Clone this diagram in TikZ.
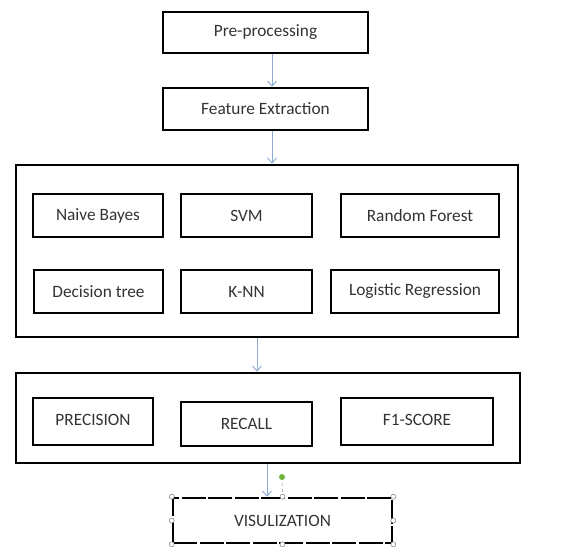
\documentclass[tikz,border=0pt]{standalone}
\usepackage{fontspec}
\setmainfont{Carlito}
\usetikzlibrary{arrows.meta}
\definecolor{arrblue}{RGB}{140,170,210}
\definecolor{handlegreen}{RGB}{110,180,60}
\begin{document}
\begin{tikzpicture}[x=1pt,y=-1pt,
  font=\fontsize{17.3}{20}\selectfont,
  bigbox/.style={draw, line width=2.8pt, rectangle, inner sep=0pt},
  smallbox/.style={draw, line width=2.6pt, rectangle, inner sep=0pt, text=black!80},
  arr/.style={draw=arrblue, line width=0.9pt, -{Straight Barb[length=5pt,width=9pt]}},
  handle/.style={circle, draw=black!45, fill=white, line width=0.6pt, inner sep=0pt, minimum size=5pt}]
\useasboundingbox (0,0) rectangle (562,546);
% top boxes
\node[smallbox, minimum width=205pt, minimum height=41pt] (pre) at (265.5,32.5) {Pre-processing};
\node[smallbox, minimum width=205pt, minimum height=42pt] (feat) at (265.5,109) {Feature Extraction};
% classifier box
\node[bigbox, minimum width=502pt, minimum height=172pt] (clf) at (267,251) {};
\node[smallbox, minimum width=130pt, minimum height=43pt] (nb) at (98,215.5) {Naive Bayes};
\node[smallbox, minimum width=131pt, minimum height=43pt] (svm) at (246.5,215.5) {SVM};
\node[smallbox, minimum width=158pt, minimum height=43pt] (rf) at (420,215.5) {Random Forest};
\node[smallbox, minimum width=129pt, minimum height=43pt] (dt) at (98.5,291.5) {Decision tree};
\node[smallbox, minimum width=131pt, minimum height=43pt] (knn) at (246.5,291.5) {K-NN};
\node[smallbox, minimum width=168pt, minimum height=43pt] (lr) at (415,291.5) {Logistic Regression};
% metrics box
\node[bigbox, minimum width=504pt, minimum height=90pt] (met) at (268,418) {};
\node[smallbox, minimum width=120pt, minimum height=47pt] (prec) at (93,421.5) {\raisebox{4pt}{PRECISION}};
\node[smallbox, minimum width=131pt, minimum height=44pt] (rec) at (246.5,424) {RECALL};
\node[smallbox, minimum width=152pt, minimum height=47pt] (f1) at (417,421.5) {\raisebox{4pt}{F1-SCORE}};
% visualization
\node[draw, line width=2.6pt, dash pattern=on 24pt off 2.5pt, rectangle, inner sep=0pt,
      minimum width=219pt, minimum height=45pt, text=black!80] (vis) at (282.5,520.5) {VISULIZATION};
% connectors
\draw[arr] (pre.south -| 272,0) -- (feat.north -| 272,0);
\draw[arr] (feat.south -| 272,0) -- (clf.north -| 272,0);
\draw[arr] (clf.south -| 257,0) -- (met.north -| 257,0);
\draw[arr] (met.south -| 267,0) -- (vis.north -| 267,0);
% selection handles
\coordinate (rot) at (282,477);
\draw[black!45, line width=0.5pt, dashed] (rot) -- (vis.north);
\fill[handlegreen] (rot) circle (3pt);
\foreach \a in {north west,north,north east,west,east,south west,south,south east}
  \node[handle] at (vis.\a) {};
\end{tikzpicture}
\end{document}
